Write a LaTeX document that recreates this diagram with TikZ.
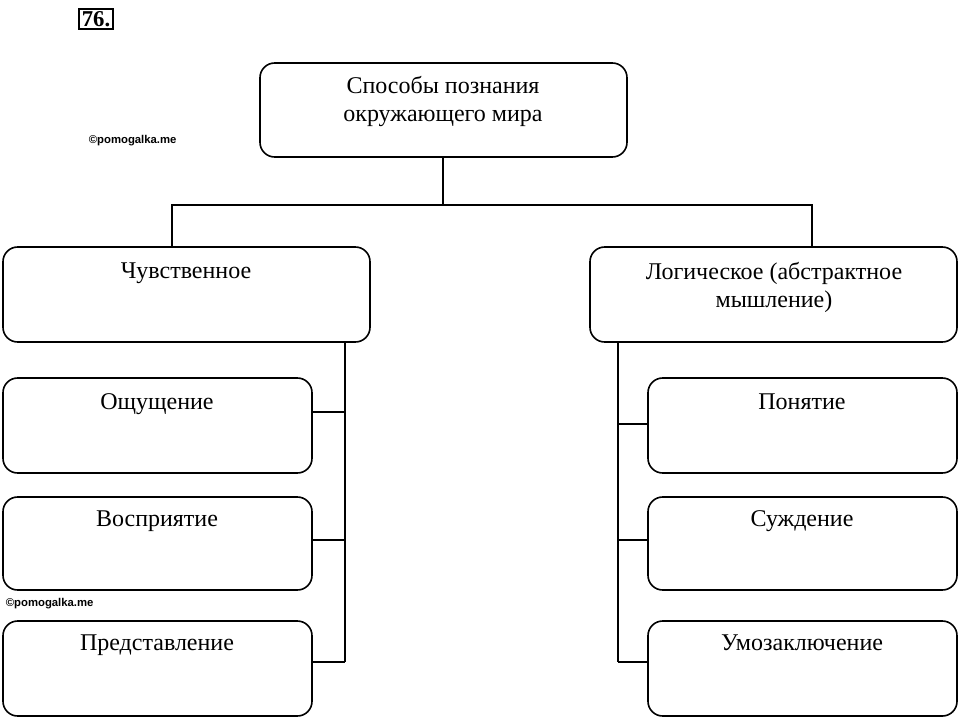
\documentclass[tikz,border=0pt]{standalone}
\usepackage{fontspec}
\setmainfont{Liberation Serif}
\newfontfamily\wmfont{Liberation Sans}
\tikzset{
    box/.style={draw, rounded corners=11pt, line width=1.2pt, inner sep=0pt},
    txt/.style={font=\fontsize{18}{21}\selectfont, align=center, inner sep=0pt, anchor=north},
    wm/.style={font=\wmfont\bfseries\fontsize{8.5}{10}\selectfont, inner sep=0pt, anchor=west},
    every path/.append style={line width=1.2pt}
}
\begin{document}
\begin{tikzpicture}[x=0.75pt,y=-0.75pt]
	\useasboundingbox (0,0) rectangle (960,718);
	\node (num) [draw, line width=1.5pt, inner sep=2pt, font=\bfseries\fontsize{17}{20}\selectfont] at (96,19) {76.};
	\node (wm1) [wm] at (88,141) {\copyright pomogalka.me};
	\node (wm2) [wm] at (5,604) {\copyright pomogalka.me};

	\draw [box] (260,63) rectangle (627,157); \coordinate (top) at (443,157);
	\node (ttop) [txt] at (443,76) {Способы познания\\окружающего мира};

	\draw [box] (3,247) rectangle (370,342); \coordinate (sens) at (172,247);
	\node (tsens) [txt] at (186,262) {Чувственное};
	\draw [box] (590,247) rectangle (957,342); \coordinate (logic) at (812,247);
	\node (tlogic) [txt] at (774,262) {Логическое (абстрактное\\мышление)};

	\draw [box] (3,378) rectangle (312,473); \node (t1) [txt] at (157,393) {Ощущение};
	\draw [box] (3,497) rectangle (312,590); \node (t2) [txt] at (157,510) {Восприятие};
	\draw [box] (3,621) rectangle (312,716); \node (t3) [txt] at (157,634) {Представление};
	\draw [box] (648,378) rectangle (957,473); \node (t4) [txt] at (802,393) {Понятие};
	\draw [box] (648,497) rectangle (957,590); \node (t5) [txt] at (802,510) {Суждение};
	\draw [box] (648,621) rectangle (957,716); \node (t6) [txt] at (802,634) {Умозаключение};

	% branches
	\draw (top) -- (443,205) (sens) |- (443,205) -| (logic);
	\draw (345,342) -- (345,662);
	\draw (312,412) -- (345,412); \draw (312,540) -- (345,540); \draw (312,662) -- (345,662);
	\draw (618,342) -- (618,662);
	\draw (618,424) -- (648,424); \draw (618,540) -- (648,540); \draw (618,662) -- (648,662);
\end{tikzpicture}
\end{document}
